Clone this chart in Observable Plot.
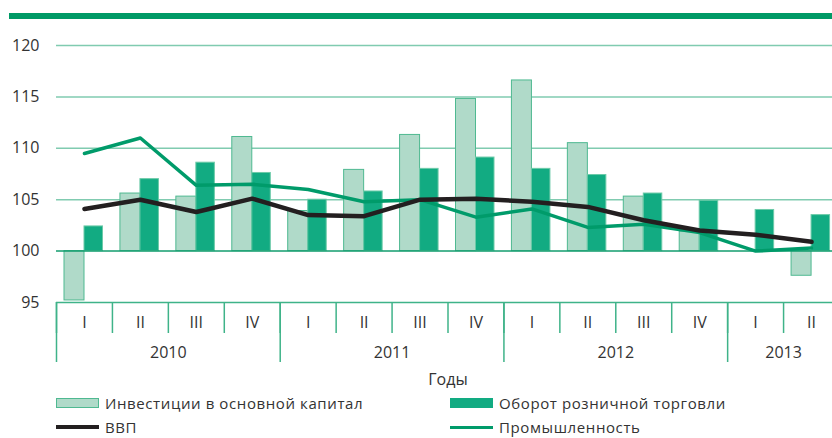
<!DOCTYPE html>
<html><head><meta charset="utf-8">
<script src="https://cdn.jsdelivr.net/npm/d3@7"></script>
<script src="https://cdn.jsdelivr.net/npm/@observablehq/plot@0.6"></script>
<style>
html,body{margin:0;padding:0}
body{width:832px;height:438px;overflow:hidden;background:#fff;font-family:"Open Sans",sans-serif;color:#333;position:relative}
#topbar{position:absolute;left:9px;top:13px;width:823px;height:6px;background:#009a66}
#chart{position:absolute;left:0;top:0;width:839px}
#chart svg{max-width:none !important;height:390px !important}
#legend{position:absolute;left:56px;top:394px;display:grid;grid-template-columns:394px auto;row-gap:6px;font-size:15px;letter-spacing:0.6px;line-height:18px}
.item{display:flex;align-items:center;height:18px;white-space:nowrap}
.sw{width:43px;height:10px;margin-right:6px;box-sizing:border-box}
.ln{width:43px;margin-right:6px}
</style></head><body>
<div id="topbar"></div>
<div id="chart"></div>
<div id="legend"></div>
<script>
const years = [2010,2010,2010,2010,2011,2011,2011,2011,2012,2012,2012,2012,2013,2013];
const quarters = ["I","II","III","IV","I","II","III","IV","I","II","III","IV","I","II"];
const investment = [95.2,105.6,105.3,111.1,103.9,107.9,111.3,114.8,116.6,110.5,105.3,101.9,null,97.6];
const retail = [102.4,107.0,108.6,107.6,105.0,105.8,108.0,109.1,108.0,107.4,105.6,104.9,104.0,103.5];
const gdp = [104.1,105.0,103.8,105.1,103.5,103.4,105.0,105.1,104.8,104.3,103.0,102.0,101.6,100.9];
const industry = [109.5,111.0,106.4,106.5,106.0,104.8,105.0,103.3,104.1,102.3,102.6,101.8,100.0,100.3];
const yTicks = [95,100,105,110,115,120];
const seriesNames = ["Инвестиции в основной капитал","Оборот розничной торговли","ВВП","Промышленность"];
const axisTitle = "Годы";

const C = {inv:"#b0dac9", invStroke:"#4fb991", ret:"#12ab82", retStroke:"#6ccaa8", gdp:"#231f20", ind:"#009b6a", grid:"#80cbb0", axis:"#3fb389", base:"#129c6e"};

const keys = years.map((y,i)=>`${y}-${quarters[i]}`);
const table = keys.map((k,i)=>({key:k, year:years[i], q:quarters[i], investment:investment[i], retail:retail[i], gdp:gdp[i], industry:industry[i]}));
const yearList = [...new Set(years)];
const yearLabels = yearList.map(y=>{const ks=keys.filter((k,i)=>years[i]===y);return {year:String(y), key:ks[ks.length/2-1]};});
const firstKeys = yearList.map(y=>keys[years.indexOf(y)]);

const W=839, H=390, ML=56, MR=0, MT=45, MB=88;
const bw=(W-ML-MR)/keys.length;
const fh = H-MT-MB;

const chart = Plot.plot({
  width:W, height:H, marginTop:MT, marginBottom:MB, marginLeft:ML, marginRight:MR,
  style:{fontFamily:'"Open Sans", sans-serif', fontSize:"16px", color:"#333", overflow:"visible", background:"transparent", maxWidth:"none"},
  x:{type:"band", domain:keys, padding:0, round:false, axis:null},
  y:{domain:[95,120], axis:null},
  marks:[
    Plot.gridY(yTicks.filter(v=>v>100), {stroke:C.grid, strokeOpacity:1, strokeWidth:1.5}),
    Plot.barY(table.filter(d=>d.investment!=null), {x:"key", y1:100, y2:"investment", fill:C.inv, stroke:C.invStroke, strokeWidth:1, insetLeft:8, insetRight:bw-28}),
    Plot.barY(table, {x:"key", y1:100, y2:"retail", fill:C.ret, stroke:C.retStroke, strokeWidth:1, insetLeft:28, insetRight:bw-46.5}),
    Plot.ruleY([100], {stroke:C.base, strokeWidth:1.5}),
    Plot.ruleY([95], {stroke:C.axis, strokeWidth:1.5}),
    Plot.line(table, {x:"key", y:"industry", stroke:C.ind, strokeWidth:3.5}),
    Plot.line(table, {x:"key", y:"gdp", stroke:C.gdp, strokeWidth:4.5}),
    Plot.axisY(yTicks, {tickSize:0, tickPadding:17, fontSize:16, label:null}),
    Plot.ruleX(keys, {dx:-bw/2, insetTop:fh, insetBottom:-31, stroke:C.axis, strokeWidth:1.5}),
    Plot.ruleX(firstKeys, {dx:-bw/2, insetTop:fh, insetBottom:-60, stroke:C.axis, strokeWidth:1.5}),
    Plot.text(table, {x:"key", text:"q", frameAnchor:"bottom", lineAnchor:"middle", dy:20, fontSize:16}),
    Plot.text(yearLabels, {x:"key", text:"year", dx:bw/2, frameAnchor:"bottom", lineAnchor:"middle", dy:50, fontSize:16}),
    Plot.text([axisTitle], {frameAnchor:"bottom", lineAnchor:"middle", dy:77, fontSize:16})
  ]
});
chart.style.maxWidth = "none";
document.getElementById("chart").appendChild(chart);

const lg = document.getElementById("legend");
const items = [
  {name:seriesNames[0], html:`<div class="sw" style="background:${C.inv};border:1px solid ${C.invStroke}"></div>`},
  {name:seriesNames[1], html:`<div class="sw" style="background:${C.ret}"></div>`},
  {name:seriesNames[2], html:`<div class="ln" style="height:4px;background:${C.gdp}"></div>`},
  {name:seriesNames[3], html:`<div class="ln" style="height:3px;background:${C.ind}"></div>`}
];
for (const it of items) {
  const d = document.createElement("div");
  d.className = "item";
  d.innerHTML = it.html + `<span>${it.name}</span>`;
  lg.appendChild(d);
}
</script></body></html>
